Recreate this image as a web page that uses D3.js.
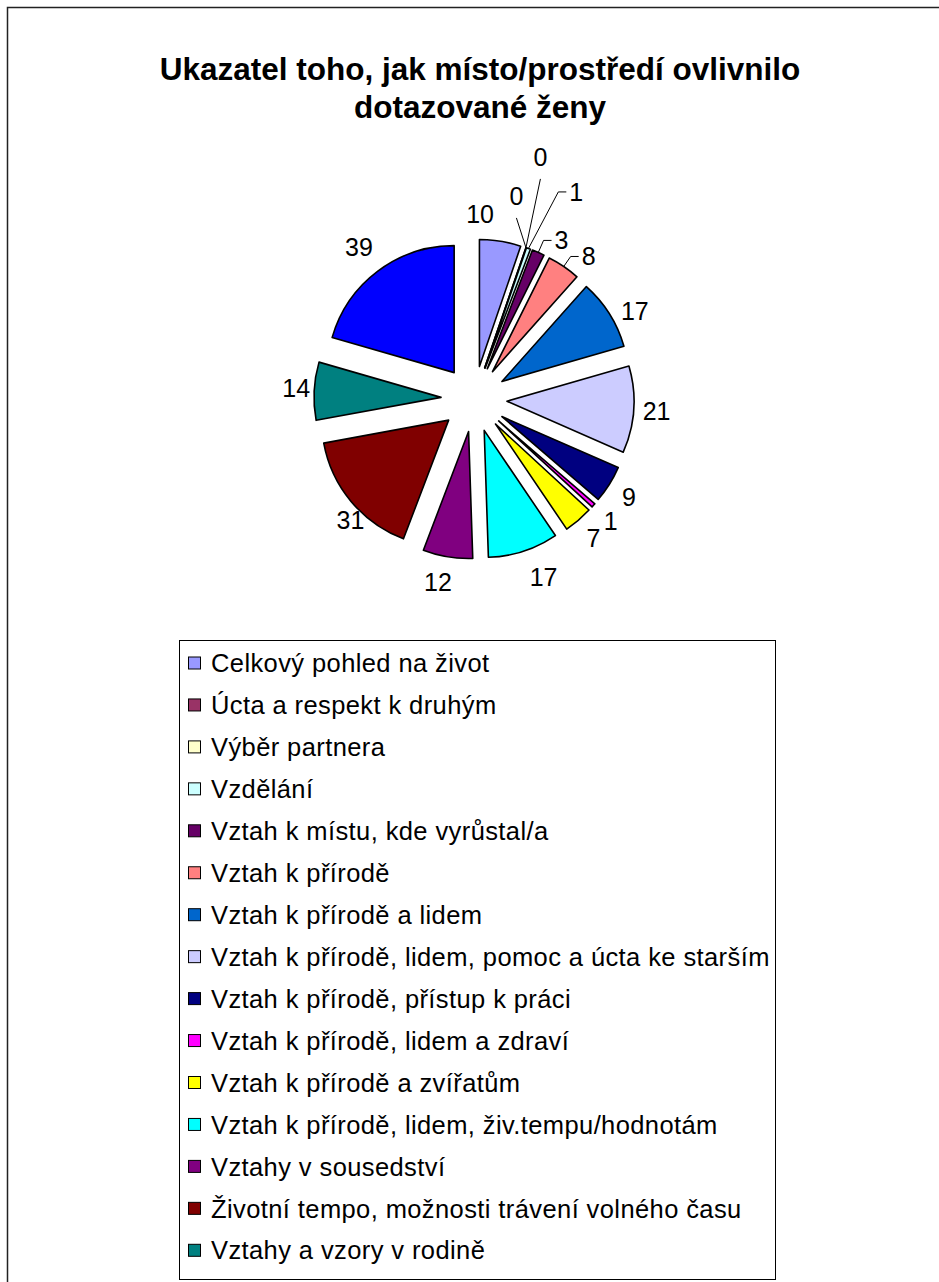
<!DOCTYPE html>
<html>
<head>
<meta charset="utf-8">
<script src="https://cdn.jsdelivr.net/npm/d3@7"></script>
<style>
	body { margin: 0; background: #fff; }
	svg { display: block; font-family: 'Liberation Sans', Arial, sans-serif; }
</style>
</head>
<body>
<svg id="chart" width="939" height="1282"></svg>
<script>
// chart data
const titleLines = ['Ukazatel toho, jak místo/prostředí ovlivnilo', 'dotazované ženy'];
const categories = [
	'Celkový pohled na život',
	'Úcta a respekt k druhým',
	'Výběr partnera',
	'Vzdělání',
	'Vztah k místu, kde vyrůstal/a',
	'Vztah k přírodě',
	'Vztah k přírodě a lidem',
	'Vztah k přírodě, lidem, pomoc a úcta ke starším',
	'Vztah k přírodě, přístup k práci',
	'Vztah k přírodě, lidem a zdraví',
	'Vztah k přírodě a zvířatům',
	'Vztah k přírodě, lidem, živ.tempu/hodnotám',
	'Vztahy v sousedství',
	'Životní tempo, možnosti trávení volného času',
	'Vztahy a vzory v rodině',
	'' // 16th slice, its legend entry is cut off
];
const values = [10, 0, 0, 1, 3, 8, 17, 21, 9, 1, 7, 17, 12, 31, 14, 39];
const colors = [
	'#9999FF', '#993366', '#FFFFCC', '#CCFFFF', '#660066', '#FF8080',
	'#0066CC', '#CCCCFF', '#000080', '#FF00FF', '#FFFF00', '#00FFFF',
	'#800080', '#800000', '#008080', '#0000FF'
];

// layout
const CX = 474;
const CY = 399;
const R = 127;
const EXPLODE = 33;
const LABEL_DIST = 183;
const LEGEND_ROWS = 15;

// hand nudges for labels Excel moved (crowded ones at the top get leaders)
const labelNudge = {
	0: { dx: -24, dy: -5 },
	1: { dx: -17, dy: -30, leader: 'up' },
	2: { dx: 7, dy: -69, leader: 'up' },
	3: { dx: 40, dy: -35, leader: 'side' },
	4: { dx: 14, dy: 9, leader: 'side' },
	5: { dx: 12, dy: 9, leader: 'side' },
	6: { dx: 6, dy: 10 },
	11: { dx: 13, dy: 4 },
	12: { dx: -6, dy: 2 },
	13: { dx: 17, dy: 4 },
	14: { dx: 5, dy: -2 },
	15: { dx: -5, dy: -6 }
};

const $svg = d3.select('#chart');

// outer chart frame (runs off the right and bottom)
$svg.append('rect')
	.attr('x', 7.5).attr('y', 7.5)
	.attr('width', 1000).attr('height', 1400)
	.attr('fill', 'none')
	.attr('stroke', '#222')
	.attr('stroke-width', 1.5);

// title
const $title = $svg.append('text')
	.attr('text-anchor', 'middle')
	.attr('font-weight', 'bold')
	.attr('font-size', 31.5)
	.attr('fill', '#000');
$title.selectAll('tspan')
	.data(titleLines)
	.enter()
	.append('tspan')
	.attr('x', 480)
	.attr('y', (d, i) => 80 + i * 38)
	.text(d => d);

// pie
const pie = d3.pie().sort(null).value(d => d)
	.startAngle(0).endAngle(2 * Math.PI);
const arcs = pie(values);
const arc = d3.arc().innerRadius(0).outerRadius(R);

const dir = a => [Math.sin(a), -Math.cos(a)];
const mid = d => (d.startAngle + d.endAngle) / 2;

const $pie = $svg.append('g').attr('transform', `translate(${CX},${CY})`);

$pie.selectAll('.slice')
	.data(arcs)
	.enter()
	.append('path')
	.attr('class', 'slice')
	.attr('transform', d => {
		const [x, y] = dir(mid(d));
		return `translate(${x * EXPLODE},${y * EXPLODE})`;
	})
	.attr('d', arc)
	.attr('fill', (d, i) => colors[i])
	.attr('stroke', '#000')
	.attr('stroke-width', 1.6)
	.attr('stroke-linejoin', 'round');

// data labels
const labels = arcs.map((d, i) => {
	const [x, y] = dir(mid(d));
	const n = labelNudge[i] || { dx: 0, dy: 0 };
	return {
		i,
		value: values[i],
		x: x * LABEL_DIST + n.dx,
		y: y * LABEL_DIST + n.dy,
		ax: x * (R + EXPLODE),
		ay: y * (R + EXPLODE),
		leader: n.leader
	};
});

const $labels = $pie.selectAll('.label')
	.data(labels)
	.enter()
	.append('text')
	.attr('class', 'label')
	.attr('x', d => d.x)
	.attr('y', d => d.y)
	.attr('dy', '0.36em')
	.attr('text-anchor', 'middle')
	.attr('font-size', 25)
	.attr('fill', '#000')
	.text(d => d.value);

// leader lines
$labels.each(function (d) {
	if (!d.leader) return;
	const bb = this.getBBox();
	let pts;
	if (d.leader === 'up') {
		pts = [[d.ax, d.ay], [d.x, d.y + 22]];
	} else {
		pts = [[d.ax, d.ay], [bb.x - 11, d.y], [bb.x - 3, d.y]];
	}
	$pie.append('path')
		.attr('d', d3.line()(pts))
		.attr('fill', 'none')
		.attr('stroke', '#000')
		.attr('stroke-width', 1);
});

// legend
const $legend = $svg.append('g');
$legend.append('rect')
	.attr('x', 179.5).attr('y', 640.5)
	.attr('width', 596).attr('height', 639)
	.attr('fill', '#fff')
	.attr('stroke', '#000')
	.attr('stroke-width', 1);

const legendY = d3.scaleLinear().domain([0, 1]).range([663, 663 + 41.95]);

const $items = $legend.selectAll('.item')
	.data(categories.slice(0, LEGEND_ROWS))
	.enter()
	.append('g')
	.attr('class', 'item')
	.attr('transform', (d, i) => `translate(0,${legendY(i)})`);

$items.append('rect')
	.attr('x', 188.5).attr('y', -6)
	.attr('width', 12).attr('height', 12)
	.attr('fill', (d, i) => colors[i])
	.attr('stroke', '#000')
	.attr('stroke-width', 1);

$items.append('text')
	.attr('x', 211)
	.attr('y', 0)
	.attr('dy', '0.36em')
	.attr('font-size', 25.5)
	.attr('letter-spacing', 0.4)
	.attr('fill', '#000')
	.text(d => d);
</script>
</body>
</html>
